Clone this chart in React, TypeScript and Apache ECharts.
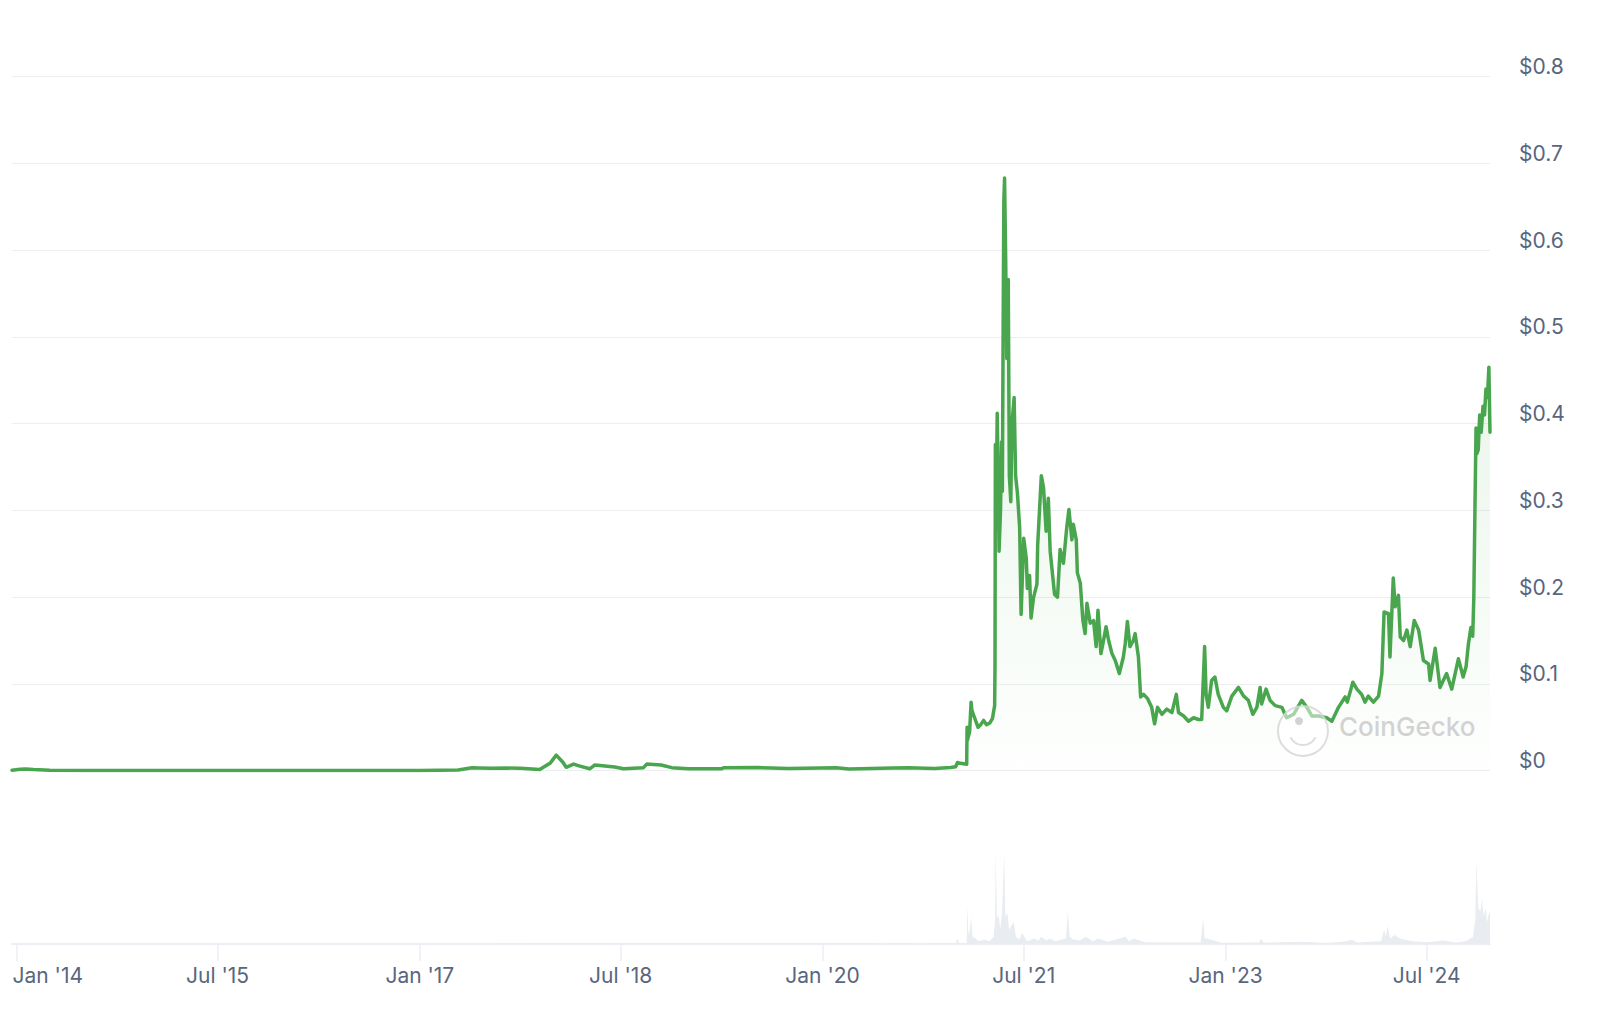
import React, { useEffect, useRef } from "react";
import * as echarts from "echarts";

// ---- Data (DOGE / USD) ----
const priceDates = [
  "2013-12-19", "2014-01-10", "2014-01-25", "2014-02-15", "2014-04-01", "2014-07-01", "2014-10-01",
  "2015-03-01", "2015-09-01", "2016-03-01", "2016-09-01", "2017-01-01", "2017-04-15", "2017-05-23",
  "2017-06-10", "2017-07-15", "2017-08-25", "2017-10-01", "2017-11-23", "2017-12-22", "2018-01-07",
  "2018-01-25", "2018-02-03", "2018-02-23", "2018-03-10", "2018-04-08", "2018-04-22", "2018-06-15",
  "2018-07-09", "2018-09-01", "2018-09-10", "2018-10-19", "2018-11-17", "2019-01-01", "2019-04-02",
  "2019-04-07", "2019-07-08", "2019-10-01", "2020-02-07", "2020-03-13", "2020-07-11", "2020-08-20",
  "2020-11-01", "2020-12-14", "2020-12-28", "2021-01-02", "2021-01-10", "2021-01-27", "2021-01-28",
  "2021-01-29", "2021-02-04", "2021-02-08", "2021-02-10", "2021-02-14", "2021-02-20", "2021-02-27",
  "2021-03-06", "2021-03-14", "2021-03-22", "2021-03-31", "2021-04-07", "2021-04-13", "2021-04-14",
  "2021-04-15", "2021-04-17", "2021-04-20", "2021-04-23", "2021-04-25", "2021-04-29", "2021-05-02",
  "2021-05-04", "2021-05-06", "2021-05-08", "2021-05-10", "2021-05-13", "2021-05-16", "2021-05-20",
  "2021-05-23", "2021-05-27", "2021-05-30", "2021-06-05", "2021-06-09", "2021-06-14", "2021-06-20",
  "2021-06-24", "2021-07-01", "2021-07-08", "2021-07-11", "2021-07-17", "2021-07-21", "2021-07-28",
  "2021-08-06", "2021-08-08", "2021-08-18", "2021-08-24", "2021-08-31", "2021-09-06", "2021-09-11",
  "2021-09-23", "2021-10-01", "2021-10-08", "2021-10-17", "2021-10-26", "2021-11-01", "2021-11-09",
  "2021-11-13", "2021-11-21", "2021-11-24", "2021-12-02", "2021-12-09", "2021-12-15", "2021-12-20",
  "2021-12-29", "2022-01-07", "2022-01-14", "2022-01-19", "2022-01-27", "2022-02-03", "2022-02-10",
  "2022-02-17", "2022-02-26", "2022-03-07", "2022-03-18", "2022-03-29", "2022-04-03", "2022-04-09",
  "2022-04-16", "2022-04-25", "2022-04-30", "2022-05-09", "2022-05-15", "2022-05-23", "2022-06-03",
  "2022-06-14", "2022-06-22", "2022-06-30", "2022-07-12", "2022-07-25", "2022-08-08", "2022-08-20",
  "2022-08-26", "2022-09-09", "2022-09-22", "2022-10-06", "2022-10-19", "2022-10-28", "2022-11-05",
  "2022-11-09", "2022-11-15", "2022-11-24", "2022-12-03", "2022-12-12", "2022-12-26", "2023-01-04",
  "2023-01-18", "2023-02-05", "2023-02-19", "2023-03-04", "2023-03-16", "2023-03-27", "2023-04-05",
  "2023-04-09", "2023-04-21", "2023-05-02", "2023-05-16", "2023-06-03", "2023-06-16", "2023-07-05",
  "2023-07-27", "2023-08-10", "2023-08-24", "2023-09-11", "2023-10-03", "2023-10-17", "2023-11-04",
  "2023-11-22", "2023-11-28", "2023-12-13", "2023-12-24", "2024-01-06", "2024-01-15", "2024-01-24",
  "2024-02-07", "2024-02-21", "2024-03-01", "2024-03-07", "2024-03-19", "2024-03-23", "2024-04-01",
  "2024-04-06", "2024-04-15", "2024-04-20", "2024-04-29", "2024-05-08", "2024-05-17", "2024-05-28",
  "2024-06-09", "2024-06-22", "2024-07-06", "2024-07-10", "2024-07-24", "2024-08-06", "2024-08-24",
  "2024-09-07", "2024-09-25", "2024-10-08", "2024-10-16", "2024-10-22", "2024-10-29", "2024-11-03",
  "2024-11-06", "2024-11-09", "2024-11-12", "2024-11-14", "2024-11-18", "2024-11-22", "2024-11-26",
  "2024-12-01", "2024-12-05", "2024-12-09", "2024-12-13", "2024-12-17", "2024-12-20",
];
const prices = [
  0.0006, 0.0016, 0.0019, 0.0013, 0.0006, 0.0003, 0.0002,
  0.00015, 0.00013, 0.00024, 0.00023, 0.00022, 0.0008, 0.0033,
  0.0032, 0.0028, 0.003, 0.0028, 0.0014, 0.009, 0.018,
  0.0097, 0.0039, 0.0076, 0.0055, 0.0022, 0.0067, 0.0043,
  0.0022, 0.0035, 0.0076, 0.0066, 0.0035, 0.0022, 0.0022,
  0.0035, 0.0037, 0.0025, 0.0035, 0.0019, 0.0031, 0.0035,
  0.0026, 0.0037, 0.0045, 0.0095, 0.0085, 0.0075, 0.05,
  0.035, 0.045, 0.079, 0.07, 0.065, 0.058, 0.05,
  0.053, 0.058, 0.053, 0.055, 0.06, 0.075, 0.12,
  0.376, 0.3, 0.412, 0.33, 0.253, 0.3, 0.379,
  0.322, 0.5, 0.656, 0.683, 0.591, 0.475, 0.566,
  0.34, 0.31, 0.4, 0.43, 0.34, 0.32, 0.28,
  0.18, 0.268, 0.245, 0.21, 0.225, 0.176, 0.2,
  0.215, 0.26, 0.34, 0.326, 0.276, 0.314, 0.253,
  0.203, 0.2, 0.255, 0.239, 0.28, 0.301, 0.266,
  0.284, 0.266, 0.228, 0.216, 0.173, 0.158, 0.193,
  0.17, 0.173, 0.143, 0.185, 0.135, 0.15, 0.166,
  0.15, 0.135, 0.127, 0.112, 0.131, 0.146, 0.172,
  0.143, 0.15, 0.158, 0.131, 0.085, 0.088, 0.083,
  0.073, 0.054, 0.073, 0.065, 0.071, 0.067, 0.088,
  0.067, 0.063, 0.057, 0.061, 0.059, 0.059, 0.143,
  0.088, 0.073, 0.104, 0.108, 0.088, 0.073, 0.069,
  0.086, 0.096, 0.086, 0.081, 0.065, 0.073, 0.096,
  0.077, 0.094, 0.081, 0.075, 0.073, 0.061, 0.065,
  0.081, 0.073, 0.063, 0.063, 0.061, 0.057, 0.073,
  0.085, 0.079, 0.102, 0.094, 0.088, 0.079, 0.086,
  0.079, 0.086, 0.112, 0.183, 0.181, 0.131, 0.222,
  0.189, 0.202, 0.154, 0.15, 0.162, 0.143, 0.173,
  0.162, 0.127, 0.123, 0.104, 0.141, 0.096, 0.112,
  0.094, 0.129, 0.108, 0.12, 0.145, 0.165, 0.155,
  0.2, 0.3, 0.395, 0.365, 0.37, 0.41, 0.39,
  0.42, 0.41, 0.44, 0.43, 0.465, 0.39,
];

const volumeDates = [
  "2013-12-19", "2017-05-20", "2018-01-08", "2020-12-01", "2020-12-28", "2021-01-02", "2021-01-06",
  "2021-01-27", "2021-01-29", "2021-02-01", "2021-02-05", "2021-02-08", "2021-02-12", "2021-02-20",
  "2021-03-01", "2021-03-15", "2021-03-30", "2021-04-10", "2021-04-14", "2021-04-16", "2021-04-19",
  "2021-04-24", "2021-04-28", "2021-05-03", "2021-05-09", "2021-05-12", "2021-05-18", "2021-05-22",
  "2021-05-28", "2021-06-04", "2021-06-10", "2021-06-19", "2021-06-27", "2021-07-10", "2021-07-29",
  "2021-08-10", "2021-08-17", "2021-09-01", "2021-09-10", "2021-09-25", "2021-10-24", "2021-10-29",
  "2021-11-03", "2021-11-13", "2021-12-01", "2021-12-17", "2022-01-05", "2022-01-20", "2022-02-15",
  "2022-04-05", "2022-04-12", "2022-04-27", "2022-05-12", "2022-05-26", "2022-08-15", "2022-10-25",
  "2022-11-01", "2022-11-05", "2022-11-12", "2022-12-01", "2022-12-20", "2023-04-03", "2023-04-07",
  "2023-04-15", "2023-07-27", "2023-10-01", "2023-11-21", "2023-12-10", "2023-12-25", "2024-02-28",
  "2024-03-07", "2024-03-12", "2024-03-16", "2024-03-24", "2024-04-05", "2024-04-19", "2024-05-23",
  "2024-07-01", "2024-08-14", "2024-09-20", "2024-10-16", "2024-11-04", "2024-11-10", "2024-11-13",
  "2024-11-18", "2024-11-24", "2024-11-28", "2024-12-03", "2024-12-08", "2024-12-12", "2024-12-16",
  "2024-12-20",
];
const volumes = [
  0.05, 0.05, 0.3, 0.2, 0.3, 3, 0.6,
  0.6, 21, 5, 8, 15, 4, 3,
  1.5, 2.5, 1.5, 4, 12, 52, 14,
  16, 8, 17, 50, 15, 17, 8,
  10, 12, 4, 2.5, 6, 1.5, 3,
  2, 4, 2, 3, 1.5, 3, 18,
  4, 2.5, 2, 4, 1.5, 3, 1.2,
  4, 1.5, 3, 2, 1, 0.8, 0.8,
  14, 3, 3, 2, 0.7, 0.8, 3,
  0.7, 1.2, 0.5, 1.4, 2.4, 0.8, 1.5,
  8, 4, 10, 3, 5, 3, 1.5,
  1, 2, 0.8, 1.5, 4, 14, 46,
  20, 18, 25, 15, 20, 12, 16,
  18,
];

const tickDates = ["2014-01-01", "2015-07-01", "2017-01-01", "2018-07-01", "2020-01-01", "2021-07-01", "2023-01-01", "2024-07-01"];
const tickLabels = ["Jan '14", "Jul '15", "Jan '17", "Jul '18", "Jan '20", "Jul '21", "Jan '23", "Jul '24"];
const xStart = "2013-12-19";
const xEnd = "2024-12-20";
const priceMin = 0;
const priceMax = 0.8;
const priceStep = 0.1;

const ts = (s: string) => Date.parse(s);

export default function App() {
  const ref = useRef<HTMLDivElement>(null);

  useEffect(() => {
    document.body.style.margin = "0";
    if (!ref.current) return;
    const chart = echarts.init(ref.current, null, { renderer: "svg" });

    const tickTs = tickDates.map(ts);
    const labelColor = "#58667e";
    const font = "Inter, 'Noto Sans', sans-serif";

    const option: any = {
      animation: false,
      backgroundColor: "#ffffff",
      grid: [
        { left: 12, right: 110, top: 76.5, height: 694.2, containLabel: false, outerBoundsMode: "none" },
        { left: 12, right: 110, top: 848, height: 96, containLabel: false, outerBoundsMode: "none" },
      ],
      xAxis: [
        {
          type: "value",
          gridIndex: 0,
          min: ts(xStart),
          max: ts(xEnd),
          show: false,
          splitLine: { show: false },
        },
        {
          type: "value",
          gridIndex: 1,
          min: ts(xStart),
          max: ts(xEnd),
          axisLine: { show: true, lineStyle: { color: "#eceef3", width: 2 } },
          axisTick: { show: true, customValues: tickTs, length: 17, lineStyle: { color: "#eceef3", width: 1.5 } },
          splitLine: { show: false },
          axisLabel: {
            show: true,
            customValues: tickTs,
            margin: 20,
            color: labelColor,
            fontFamily: font,
            fontSize: 21,
            lineHeight: 22,
            formatter: (v: number) => {
              let idx = 0;
              let best = Infinity;
              tickTs.forEach((t, i) => {
                const d = Math.abs(t - v);
                if (d < best) { best = d; idx = i; }
              });
              const txt = tickLabels[idx];
              return idx === 0 ? "{first|" + txt + "}" : txt;
            },
            rich: {
              first: { padding: [0, 0, 0, 62], color: labelColor, fontFamily: font, fontSize: 21, lineHeight: 22 },
            },
          },
        },
      ],
      yAxis: [
        {
          type: "value",
          gridIndex: 0,
          position: "right",
          min: priceMin,
          max: priceMax,
          interval: priceStep,
          axisLine: { show: false },
          axisTick: { show: false },
          splitLine: { show: true, lineStyle: { color: "#eceef1", width: 1 } },
          axisLabel: {
            margin: 29,
            color: labelColor,
            fontFamily: font,
            fontSize: 21,
            lineHeight: 20,
            verticalAlign: "bottom",
            formatter: (v: number) => (v === 0 ? "$0" : "$" + String(+v.toFixed(1))),
          },
        },
        {
          type: "value",
          gridIndex: 1,
          min: 0,
          max: 53,
          show: false,
          splitLine: { show: false },
        },
      ],
      series: [
        {
          name: "Volume",
          type: "line",
          xAxisIndex: 1,
          yAxisIndex: 1,
          data: volumeDates.map((d, i) => [ts(d), volumes[i]]),
          showSymbol: false,
          symbol: "none",
          lineStyle: { width: 0 },
          areaStyle: { color: "#e9ecf0", opacity: 1 },
          silent: true,
        },
        {
          name: "Price",
          type: "line",
          xAxisIndex: 0,
          yAxisIndex: 0,
          data: priceDates.map((d, i) => [ts(d), prices[i]]),
          showSymbol: false,
          symbol: "none",
          lineStyle: { color: "#4aa64e", width: 3.5, join: "round", cap: "round" },
          areaStyle: {
            color: new echarts.graphic.LinearGradient(0, 0, 0, 1, [
              { offset: 0, color: "rgba(76,175,80,0.24)" },
              { offset: 1, color: "rgba(76,175,80,0.01)" },
            ]),
          },
          silent: true,
        },
      ],
      graphic: [
        {
          type: "circle",
          z: 100,
          shape: { cx: 1303, cy: 731, r: 25 },
          style: { fill: "rgba(255,255,255,0.5)", stroke: "rgba(212,212,212,0.8)", lineWidth: 2 },
        },
        {
          type: "arc",
          z: 100,
          shape: { cx: 1303, cy: 731, r: 14, startAngle: Math.PI * 0.15, endAngle: Math.PI * 0.85 },
          style: { stroke: "rgba(212,212,212,0.8)", lineWidth: 2, fill: "none" },
        },
        {
          type: "circle",
          z: 101,
          shape: { cx: 1299, cy: 721, r: 4 },
          style: { fill: "rgba(205,205,205,0.9)" },
        },
        {
          type: "text",
          z: 100,
          x: 1339,
          y: 726,
          style: {
            text: "CoinGecko",
            fontSize: 26,
            fontFamily: font,
            fontWeight: 500,
            fill: "rgba(208,208,208,0.95)",
            verticalAlign: "middle",
            align: "left",
          },
        },
      ],
    };

    chart.setOption(option);
    return () => chart.dispose();
  }, []);

  return <div ref={ref} style={{ width: 1600, height: 1016 }} />;
}
